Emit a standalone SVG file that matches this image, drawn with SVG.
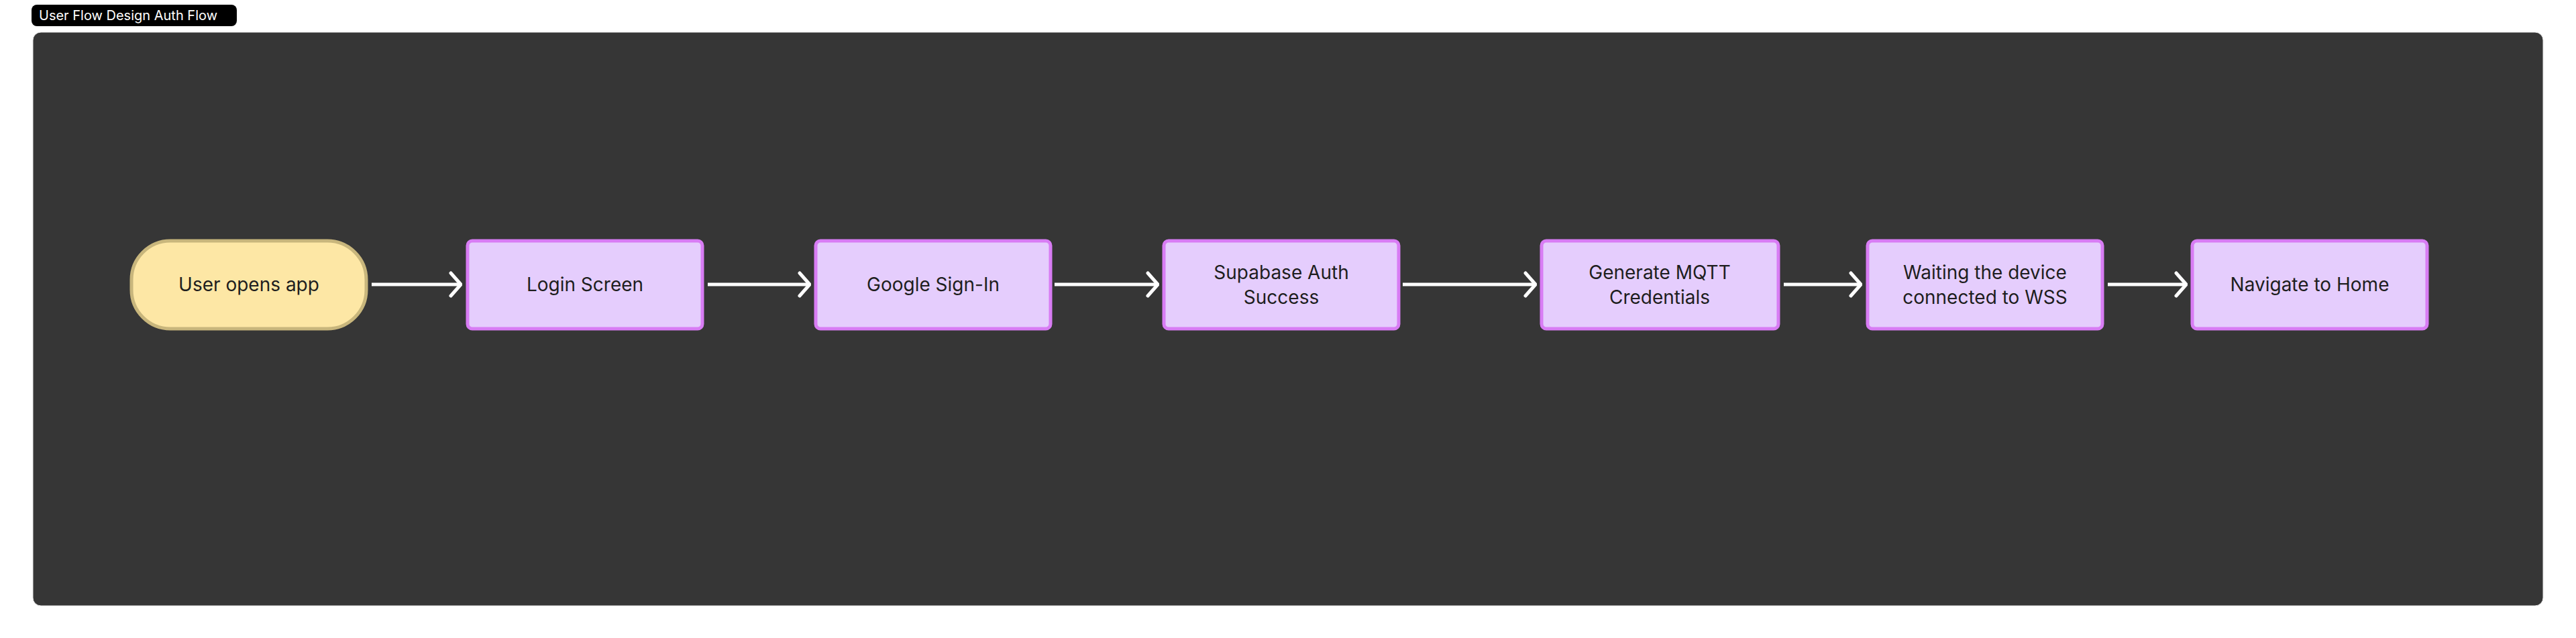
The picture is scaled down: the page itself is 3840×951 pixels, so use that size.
<svg xmlns="http://www.w3.org/2000/svg" width="3840" height="951" viewBox="0 0 3840 951">
<style>
text{font-family:Inter,"Liberation Sans",sans-serif;}
.lbl{font-size:28px;fill:#1e1e1e;text-anchor:middle;}
.box{fill:#e5cdfd;stroke:#d87cf4;stroke-width:5;}
.conn{stroke:#fff;stroke-width:5;fill:none;}
</style>
<defs>
<marker id="ah" viewBox="0 0 20 40" refX="18" refY="20" markerWidth="20" markerHeight="40" markerUnits="userSpaceOnUse" orient="auto">
<path d="M3 3 L18 20 L3 37" fill="none" stroke="#fff" stroke-width="5" stroke-linecap="round" stroke-linejoin="round"/>
</marker>
</defs>
<rect width="3840" height="951" fill="#fff"/>
<g id="title">
<rect x="47" y="7" width="306" height="32" rx="8" fill="#000"/>
<text x="58" y="30" font-size="20" fill="#fff">User Flow  Design Auth Flow</text>
</g>
<rect id="panel" x="49" y="48" width="3742" height="855" rx="12" fill="#363636" stroke="#e8e8e8" stroke-width="1"/>
<g id="connectors">
<line class="conn" x1="554" y1="424" x2="687" y2="424" marker-end="url(#ah)"/>
<line class="conn" x1="1055" y1="424" x2="1207" y2="424" marker-end="url(#ah)"/>
<line class="conn" x1="1572" y1="424" x2="1726" y2="424" marker-end="url(#ah)"/>
<line class="conn" x1="2091" y1="424" x2="2289" y2="424" marker-end="url(#ah)"/>
<line class="conn" x1="2659" y1="424" x2="2774" y2="424" marker-end="url(#ah)"/>
<line class="conn" x1="3142" y1="424" x2="3259" y2="424" marker-end="url(#ah)"/>
</g>
<g id="n1"><rect x="196" y="359" width="350" height="131" rx="58" fill="#fde7a5" stroke="#c8b67c" stroke-width="5"/><text class="lbl" x="371" y="434">User opens app</text></g>
<g id="n2"><rect class="box" x="697" y="359" width="350" height="131" rx="7"/><text class="lbl" x="872" y="434">Login Screen</text></g>
<g id="n3"><rect class="box" x="1216" y="359" width="350" height="131" rx="7"/><text class="lbl" x="1391" y="434">Google Sign-In</text></g>
<g id="n4"><rect class="box" x="1735" y="359" width="350" height="131" rx="7"/><text class="lbl" x="1910" y="416">Supabase Auth</text><text class="lbl" x="1910" y="453">Success</text></g>
<g id="n5"><rect class="box" x="2298" y="359" width="353" height="131" rx="7"/><text class="lbl" x="2474" y="416">Generate MQTT</text><text class="lbl" x="2474" y="453">Credentials</text></g>
<g id="n6"><rect class="box" x="2784" y="359" width="350" height="131" rx="7"/><text class="lbl" x="2959" y="416">Waiting the device</text><text class="lbl" x="2959" y="453">connected to WSS</text></g>
<g id="n7"><rect class="box" x="3268" y="359" width="350" height="131" rx="7"/><text class="lbl" x="3443" y="434">Navigate to Home</text></g>
</svg>
